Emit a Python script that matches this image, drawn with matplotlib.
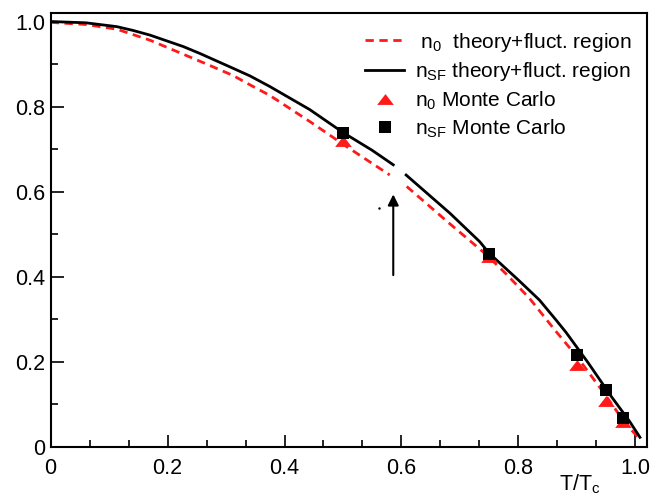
import matplotlib
matplotlib.use("Agg")
import matplotlib.pyplot as plt
from matplotlib.ticker import MultipleLocator, FuncFormatter

plt.rcParams['font.family'] = ['Liberation Sans', 'DejaVu Sans']
plt.rcParams['mathtext.fontset'] = 'custom'
plt.rcParams['mathtext.rm'] = 'Liberation Sans'
plt.rcParams['mathtext.it'] = 'Liberation Sans:italic'

# n_SF theory curve (black), split at the gap near T/Tc ~ 0.6
nsf_x1 = [0.0, 0.06, 0.113, 0.141, 0.17, 0.227, 0.255, 0.312, 0.341, 0.375, 0.443, 0.5, 0.55, 0.586]
nsf_y1 = [1.0, 0.997, 0.988, 0.979, 0.968, 0.941, 0.925, 0.890, 0.872, 0.847, 0.793, 0.739, 0.697, 0.663]
nsf_x2 = [0.608, 0.683, 0.734, 0.75, 0.80, 0.836, 0.865, 0.882, 0.919, 0.959, 0.990, 1.008]
nsf_y2 = [0.639, 0.549, 0.482, 0.455, 0.392, 0.345, 0.297, 0.268, 0.198, 0.118, 0.060, 0.022]

# n_0 theory curve (red dashed)
n0_x1 = [0.0, 0.06, 0.113, 0.17, 0.227, 0.27, 0.312, 0.341, 0.375, 0.443, 0.506, 0.58]
n0_y1 = [0.998, 0.993, 0.982, 0.956, 0.923, 0.898, 0.873, 0.851, 0.826, 0.765, 0.706, 0.639]
n0_x2 = [0.609, 0.683, 0.745, 0.78, 0.819, 0.862, 0.899, 0.947, 0.984, 1.009]
n0_y2 = [0.612, 0.524, 0.452, 0.405, 0.349, 0.275, 0.214, 0.125, 0.053, 0.016]

# Monte Carlo points
mc_t = [0.5, 0.75, 0.9, 0.95, 0.979]
mc_n0 = [0.718, 0.446, 0.192, 0.108, 0.057]
mc_nsf = [0.737, 0.453, 0.216, 0.133, 0.067]

# arrow marking the gap, and a stray dot
arrow_x = 0.586
arrow_y = [0.397, 0.60]
dot_xy = (0.561, 0.561)

fig = plt.figure(figsize=(6.53, 4.95), dpi=100)
ax = fig.add_axes([0.0776, 0.0976, 0.9132, 0.8761])

red = '#ff1a1a'
tri = [(-1, -0.65), (1, -0.65), (0, 0.65)]

l1, = ax.plot(n0_x1, n0_y1, color=red, lw=2.0, dashes=(3.0, 2.0))
ax.plot(n0_x2, n0_y2, color=red, lw=2.0, dashes=(3.0, 2.0))
l2, = ax.plot(nsf_x1, nsf_y1, color='black', lw=2.0)
ax.plot(nsf_x2, nsf_y2, color='black', lw=2.0)
l3, = ax.plot(mc_t, mc_n0, linestyle='none', marker=tri, ms=12, color=red, mew=0)
l4, = ax.plot(mc_t, mc_nsf, linestyle='none', marker='s', ms=9, color='black', mew=0)

ax.annotate('', xy=(arrow_x, arrow_y[1]), xytext=(arrow_x, arrow_y[0]),
            arrowprops=dict(arrowstyle='-|>', lw=1.5, color='black', mutation_scale=16))
ax.plot([dot_xy[0]], [dot_xy[1]], marker='.', ms=1.5, color='black')

ax.set_xlim(0, 1.02)
ax.set_ylim(0, 1.02)
ax.xaxis.set_major_locator(MultipleLocator(0.2))
ax.xaxis.set_minor_locator(MultipleLocator(0.2 / 3))
ax.yaxis.set_major_locator(MultipleLocator(0.2))
ax.yaxis.set_minor_locator(MultipleLocator(0.1))
fmt = FuncFormatter(lambda v, p: '0' if abs(v) < 1e-9 else '%.1f' % v)
ax.xaxis.set_major_formatter(fmt)
ax.yaxis.set_major_formatter(fmt)
ax.tick_params(which='major', direction='in', length=9, width=1.2, labelsize=15.5)
ax.tick_params(which='minor', direction='in', length=5, width=1.2)
ax.tick_params(axis='x', pad=8)
ax.tick_params(axis='y', pad=4)
for s in ax.spines.values():
    s.set_linewidth(1.5)

ax.text(0.888, -0.06, r'T/T$\mathregular{_c}$', transform=ax.transAxes,
        fontsize=15.5, ha='center', va='top', clip_on=False)

leg = ax.legend([l1, l2, l3, l4],
                [r' n$\mathregular{_0}$  theory+fluct. region',
                 r'n$\mathregular{_{SF}}$ theory+fluct. region',
                 r'n$\mathregular{_0}$ Monte Carlo',
                 r'n$\mathregular{_{SF}}$ Monte Carlo'],
                loc='upper right', bbox_to_anchor=(0.995, 0.988), frameon=False,
                fontsize=15, handlelength=1.9, handletextpad=0.5,
                labelspacing=0.3, borderaxespad=0.2)

fig.savefig('out.png', dpi=100)
